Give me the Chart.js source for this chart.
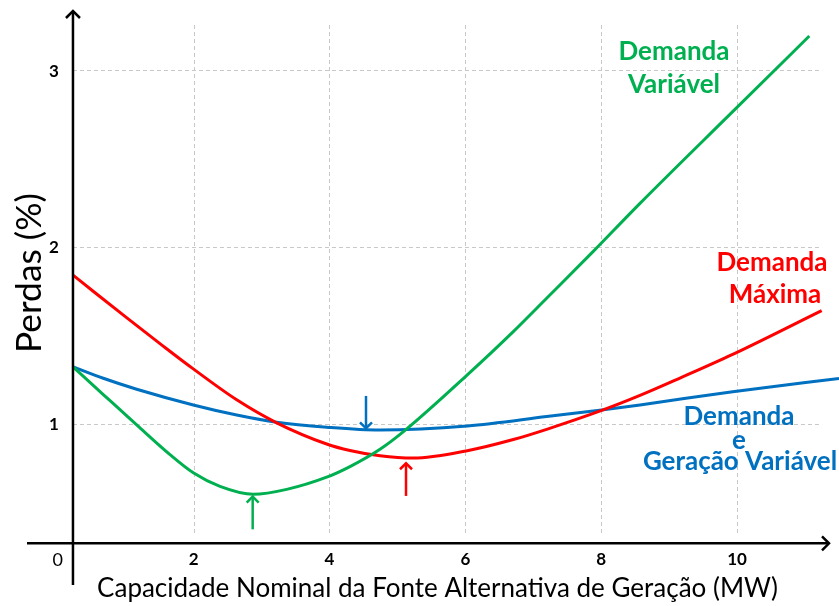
<!DOCTYPE html>
<html>
<head>
<meta charset="utf-8">
<script src="https://cdn.jsdelivr.net/npm/chart.js@4"></script>
<style>
  html, body { margin: 0; padding: 0; background: #fff; overflow: hidden; }
  #wrap { width: 839px; height: 606px; position: relative; }
</style>
</head>
<body>
<div id="wrap"><canvas id="chart"></canvas></div>
<script>
// Curve readings (x in MW, y in %)
const xVariavel = [0.221, 0.671, 1.163, 1.653, 1.996, 2.389, 2.879, 3.371, 3.959, 4.302, 4.744, 5.112, 6.029, 6.706, 7.197, 7.883, 8.571, 9.935, 11.063];
const yVariavel = [1.323, 1.165, 0.993, 0.825, 0.722, 0.645, 0.600, 0.628, 0.697, 0.757, 0.855, 0.962, 1.276, 1.521, 1.710, 1.975, 2.247, 2.766, 3.194];

const xMaxima = [0.221, 0.527, 1.014, 1.510, 1.996, 2.635, 3.223, 3.959, 4.302, 4.744, 5.234, 6.029, 6.706, 7.197, 8.007, 8.571, 9.159, 9.935, 11.245];
const yMaxima = [1.842, 1.748, 1.600, 1.452, 1.310, 1.135, 1.005, 0.885, 0.848, 0.818, 0.805, 0.847, 0.910, 0.968, 1.075, 1.160, 1.258, 1.392, 1.640];

const xGeracao = [0.221, 0.671, 1.163, 1.996, 2.635, 3.223, 3.959, 4.744, 6.029, 7.197, 8.007, 8.571, 9.935, 11.5];
const yGeracao = [1.323, 1.257, 1.195, 1.106, 1.049, 1.008, 0.980, 0.964, 0.987, 1.040, 1.078, 1.106, 1.181, 1.256];

const xTicks = [2, 4, 6, 8, 10];
const yTicks = [1, 2, 3];

// minimum markers: [x, yFrom, yTo]
const arrowVariavel = [2.870, 0.402, 0.587];
const arrowMaxima = [5.127, 0.591, 0.776];
const arrowGeracao = [4.538, 1.157, 0.974];

const GREEN = '#00B050', RED = '#FF0000', BLUE = '#0070C0';
const FONT = 'Lato, "Open Sans", sans-serif';

function pts(xs, ys) {
  return xs.map((x, i) => ({ x: x, y: ys[i] }));
}

function fitFont(ctx, text, weight, width, family) {
  ctx.font = weight + ' 100px ' + family;
  const w = ctx.measureText(text).width;
  return weight + ' ' + (100 * width / w).toFixed(2) + 'px ' + family;
}

function arrowHead(ctx, x, y, dir, size) {
  ctx.beginPath();
  if (dir === 'up') { ctx.moveTo(x - size, y + size); ctx.lineTo(x, y); ctx.lineTo(x + size, y + size); }
  if (dir === 'down') { ctx.moveTo(x - size, y - size); ctx.lineTo(x, y); ctx.lineTo(x + size, y - size); }
  if (dir === 'right') { ctx.moveTo(x - size, y - size); ctx.lineTo(x, y); ctx.lineTo(x - size, y + size); }
  ctx.stroke();
}

const decor = {
  id: 'decor',
  beforeDatasetsDraw(chart) {
    const ctx = chart.ctx, xs = chart.scales.x, ys = chart.scales.y;
    const axisX = xs.getPixelForValue(0.225);
    ctx.save();
    ctx.strokeStyle = '#c8c8c8';
    ctx.lineWidth = 1;
    ctx.setLineDash([4, 3]);
    xTicks.forEach(v => {
      const px = Math.round(xs.getPixelForValue(v)) + 0.5;
      ctx.beginPath(); ctx.moveTo(px, 25); ctx.lineTo(px, 535); ctx.stroke();
    });
    yTicks.forEach(v => {
      const py = Math.round(ys.getPixelForValue(v)) + 0.5;
      ctx.beginPath(); ctx.moveTo(axisX, py); ctx.lineTo(820, py); ctx.stroke();
    });
    ctx.restore();
  },
  afterDatasetsDraw(chart) {
    const ctx = chart.ctx, xs = chart.scales.x, ys = chart.scales.y;
    const axisX = xs.getPixelForValue(0.225);
    const axisY = ys.getPixelForValue(0.323);
    ctx.save();

    // axes with arrows
    ctx.strokeStyle = '#000';
    ctx.lineWidth = 2.5;
    ctx.beginPath(); ctx.moveTo(axisX, 585); ctx.lineTo(axisX, 11); ctx.stroke();
    ctx.beginPath(); ctx.moveTo(27, axisY); ctx.lineTo(829, axisY); ctx.stroke();
    arrowHead(ctx, axisX, 11, 'up', 7);
    arrowHead(ctx, 829, axisY, 'right', 7);

    // minimum markers
    [[arrowVariavel, GREEN], [arrowMaxima, RED], [arrowGeracao, BLUE]].forEach(([a, c]) => {
      const px = xs.getPixelForValue(a[0]);
      const y0 = ys.getPixelForValue(a[1]), y1 = ys.getPixelForValue(a[2]);
      ctx.strokeStyle = c;
      ctx.lineWidth = 2.5;
      ctx.beginPath(); ctx.moveTo(px, y0); ctx.lineTo(px, y1); ctx.stroke();
      arrowHead(ctx, px, y1, y1 < y0 ? 'up' : 'down', 6);
    });

    // tick labels
    ctx.fillStyle = '#000';
    ctx.textAlign = 'center';
    ctx.textBaseline = 'middle';
    ctx.font = 'bold 17px ' + FONT;
    xTicks.forEach(v => ctx.fillText(String(v), xs.getPixelForValue(v), 560));
    yTicks.forEach(v => ctx.fillText(String(v), 54, ys.getPixelForValue(v) + 1));
    ctx.font = '18px ' + FONT;
    ctx.fillText('0', xs.getPixelForValue(0), 560);

    // axis titles
    ctx.font = fitFont(ctx, 'Capacidade Nominal da Fonte Alternativa de Geração (MW)', 'normal', 681, FONT);
    ctx.fillText('Capacidade Nominal da Fonte Alternativa de Geração (MW)', 437.5, 589);
    ctx.save();
    ctx.translate(30, 273);
    ctx.rotate(-Math.PI / 2);
    ctx.font = fitFont(ctx, 'Perdas (%)', 'normal', 160, FONT);
    ctx.fillText('Perdas (%)', 0, 0);
    ctx.restore();

    // series labels
    ctx.font = fitFont(ctx, 'Demanda', 'bold', 111, FONT);
    ctx.fillStyle = GREEN;
    ctx.fillText('Demanda', 674, 52);
    ctx.fillText('Variável', 674, 85);
    ctx.fillStyle = RED;
    ctx.fillText('Demanda', 772, 263);
    ctx.fillText('Máxima', 775, 295);
    ctx.fillStyle = BLUE;
    ctx.fillText('Demanda', 739, 417);
    ctx.fillText('e', 739, 441);
    ctx.fillText('Geração Variável', 740, 462);
    ctx.restore();
  }
};

function series(label, xs, ys, color) {
  return {
    label: label,
    data: pts(xs, ys),
    borderColor: color,
    backgroundColor: color,
    borderWidth: 3,
    pointRadius: 0,
    fill: false,
    cubicInterpolationMode: 'monotone'
  };
}

new Chart(document.getElementById('chart').getContext('2d'), {
  type: 'line',
  data: {
    datasets: [
      series('Demanda Variável', xVariavel, yVariavel, GREEN),
      series('Demanda Máxima', xMaxima, yMaxima, RED),
      series('Demanda e Geração Variável', xGeracao, yGeracao, BLUE)
    ]
  },
  options: {
    responsive: true,
    maintainAspectRatio: false,
    animation: false,
    layout: { padding: 0 },
    plugins: { legend: { display: false }, tooltip: { enabled: false } },
    scales: {
      x: { type: 'linear', display: false, min: -0.849, max: 11.5 },
      y: { type: 'linear', display: false, min: -0.032, max: 3.398 }
    }
  },
  plugins: [decor]
});
</script>
</body>
</html>
